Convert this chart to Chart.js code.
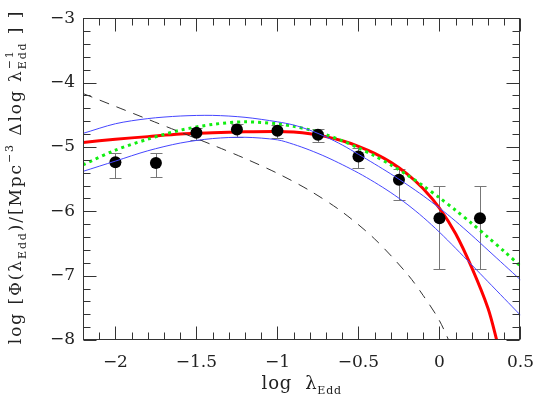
<!DOCTYPE html>
<html><head><meta charset="utf-8">
<script src="https://cdn.jsdelivr.net/npm/chart.js@4/dist/chart.umd.min.js"></script>
<style>html,body{margin:0;padding:0;background:#fff;}#c{display:block;}</style>
</head><body>
<canvas id="c" width="546" height="397"></canvas>
<script>
// ---- data ----
const obsX  = [-2, -1.75, -1.5, -1.25, -1, -0.75, -0.5, -0.25, 0, 0.25];
const obsY  = [-5.24, -5.25, -4.78, -4.73, -4.75, -4.81, -5.15, -5.51, -6.11, -6.11];
const obsHi = [-5.09, -5.10, -4.70, -4.65, -4.66, -4.72, -5.02, -5.34, -5.61, -5.61];
const obsLo = [-5.49, -5.47, -4.90, -4.85, -4.86, -4.92, -5.32, -5.82, -6.89, -6.89];

const gridX = [-2.2, -2.0, -1.8, -1.6, -1.4, -1.2, -1.0, -0.9, -0.8, -0.7, -0.6, -0.5, -0.4, -0.3, -0.2, -0.1, 0, 0.1, 0.2, 0.3, 0.4, 0.5];
const greenY  = [-5.28, -5.05, -4.88, -4.74, -4.65, -4.61, -4.64, -4.68, -4.735, -4.81, -4.905, -5.015, -5.14, -5.28, -5.435, -5.605, -5.79, -5.985, -6.19, -6.405, -6.625, -6.85];
const blueHiY = [-4.79, -4.64, -4.56, -4.52, -4.51, -4.54, -4.61, -4.66, -4.74, -4.845, -4.97, -5.115, -5.265, -5.42, -5.585, -5.76, -5.95, -6.155, -6.375, -6.605, -6.835, -7.065];
const blueLoY = [-5.38, -5.22, -5.06, -4.94, -4.87, -4.85, -4.89, -4.96, -5.05, -5.155, -5.275, -5.405, -5.55, -5.71, -5.89, -6.095, -6.325, -6.575, -6.835, -7.095, -7.355, -7.615];

const redX = [-2.2, -2.0, -1.8, -1.6, -1.4, -1.2, -1.0, -0.9, -0.8, -0.7, -0.6, -0.5, -0.4, -0.3, -0.2, -0.1, 0, 0.1, 0.2, 0.3, 0.35, 0.4];
const redY = [-4.93, -4.88, -4.84, -4.80, -4.78, -4.765, -4.76, -4.77, -4.795, -4.84, -4.905, -4.99, -5.10, -5.24, -5.42, -5.65, -5.95, -6.35, -6.88, -7.51, -7.97, -8.5];

const dashX = [-2.2, -2.0, -1.8, -1.6, -1.4, -1.2, -1.0, -0.8, -0.6, -0.4, -0.2, -0.1, 0, 0.1];
const dashY = [-4.17, -4.37, -4.57, -4.77, -4.97, -5.18, -5.41, -5.68, -6.01, -6.43, -6.97, -7.31, -7.70, -8.25];

const xTicks = [-2, -1.5, -1, -0.5, 0, 0.5];
const xTickLabels = ['\u22122', '\u22121.5', '\u22121', '\u22120.5', '0', '0.5'];
const yTicks = [-8, -7, -6, -5, -4, -3];
const yTickLabels = ['\u22128', '\u22127', '\u22126', '\u22125', '\u22124', '\u22123'];
const xMinorStep = 0.1, yMinorStep = 0.2;

const FONT = "'DejaVu Serif'";
const pts = (xs, ys) => xs.map((v, i) => ({x: v, y: ys[i]}));

function drawRich(ctx, runs, sp, measureOnly) {
  let x = 0, stackW = 0;
  for (const r of runs) {
    ctx.font = r.s + 'px ' + FONT;
    let w = 0;
    for (const ch of r.t) {
      if (!measureOnly) ctx.fillText(ch, x + w, r.dy || 0);
      w += ctx.measureText(ch).width + sp;
    }
    if (r.stack) { stackW = w; }
    else { x += Math.max(w, stackW); stackW = 0; }
  }
  return x;
}

const framePlugin = {
  id: 'frame',
  beforeDatasetsDraw(chart) {
    const {ctx, scales: {x, y}} = chart;
    ctx.save();
    ctx.strokeStyle = '#777';
    ctx.lineWidth = 1;
    obsX.forEach((vx, i) => {
      const px = Math.round(x.getPixelForValue(vx)) + 0.5;
      const pt = Math.round(y.getPixelForValue(obsHi[i])) + 0.5;
      const pb = Math.round(y.getPixelForValue(obsLo[i])) + 0.5;
      ctx.beginPath();
      ctx.moveTo(px, pt); ctx.lineTo(px, pb);
      ctx.moveTo(px - 6, pt); ctx.lineTo(px + 6, pt);
      ctx.moveTo(px - 6, pb); ctx.lineTo(px + 6, pb);
      ctx.stroke();
    });
    ctx.restore();
  },
  afterDraw(chart) {
    const {ctx, chartArea: a, scales: {x, y}} = chart;
    ctx.save();
    ctx.strokeStyle = '#333';
    ctx.lineWidth = 1;
    const L = Math.round(a.left) + 0.5, R = Math.round(a.right) - 0.5;
    const T = Math.round(a.top) + 0.5, B = Math.round(a.bottom) - 0.5;
    ctx.strokeRect(L, T, R - L, B - T);
    ctx.beginPath();
    for (let k = Math.round(x.min / xMinorStep); k <= Math.round(x.max / xMinorStep); k++) {
      const v = k * xMinorStep;
      const major = xTicks.some(t => Math.abs(t - v) < 1e-6);
      const len = major ? 13 : 7;
      const px = Math.round(x.getPixelForValue(v)) + 0.5;
      ctx.moveTo(px, B); ctx.lineTo(px, B - len);
      ctx.moveTo(px, T); ctx.lineTo(px, T + len);
    }
    for (let k = Math.round(y.min / yMinorStep); k <= Math.round(y.max / yMinorStep); k++) {
      const v = k * yMinorStep;
      const major = yTicks.some(t => Math.abs(t - v) < 1e-6);
      const len = major ? 13 : 7;
      const py = Math.round(y.getPixelForValue(v)) + 0.5;
      ctx.moveTo(L, py); ctx.lineTo(L + len, py);
      ctx.moveTo(R, py); ctx.lineTo(R - len, py);
    }
    ctx.stroke();

    // axis titles
    ctx.fillStyle = '#222';
    ctx.textBaseline = 'alphabetic';
    ctx.textAlign = 'left';
    const xRuns = [{t: 'log  \u03BB', s: 18}, {t: 'Edd', s: 11, dy: 5}];
    const xw = drawRich(ctx, xRuns, 0.8, true);
    ctx.save();
    ctx.translate((a.left + a.right) / 2 - xw / 2, 389);
    drawRich(ctx, xRuns, 0.8);
    ctx.restore();

    const yRuns = [
      {t: 'log [\u03A6(\u03BB', s: 17}, {t: 'Edd', s: 11, dy: 5},
      {t: ')/[Mpc', s: 17}, {t: '\u22123', s: 11, dy: -8},
      {t: ' \u0394log \u03BB', s: 17},
      {t: '\u22121', s: 11, dy: -8, stack: true}, {t: 'Edd', s: 11, dy: 5},
      {t: ' ] ]', s: 17}
    ];
    const yw = drawRich(ctx, yRuns, 1.9, true);
    ctx.save();
    ctx.translate(21, 177 + yw / 2);
    ctx.rotate(-Math.PI / 2);
    drawRich(ctx, yRuns, 1.9);
    ctx.restore();
    ctx.restore();
  }
};

const curve = (d, color, width, order, extra) => Object.assign({
  data: d, borderColor: color, borderWidth: width, pointRadius: 0,
  tension: 0.3, order: order, clip: 0
}, extra || {});

new Chart(document.getElementById('c'), {
  type: 'line',
  data: {
    datasets: [
      curve(pts(gridX, blueHiY), 'rgb(70,70,255)', 1, 1),
      curve(pts(gridX, blueLoY), 'rgb(70,70,255)', 1, 1),
      curve(pts(dashX, dashY), '#333', 1, 2, {borderDash: [10, 8]}),
      {data: pts(obsX, obsY), showLine: false, pointRadius: 6, pointBackgroundColor: '#000', pointBorderWidth: 0, borderColor: '#000', order: 3},
      curve(pts(gridX, greenY), '#11ee11', 3, 4, {borderDash: [3, 4], borderCapStyle: 'butt'}),
      curve(pts(redX, redY), '#ff0000', 3, 5)
    ]
  },
  options: {
    responsive: false,
    devicePixelRatio: 1,
    animation: false,
    events: [],
    layout: {padding: {top: 7, right: 15, left: 0, bottom: 0}},
    plugins: {legend: {display: false}, tooltip: {enabled: false}},
    scales: {
      x: {
        type: 'linear', min: -2.2, max: 0.5,
        grid: {display: false, drawTicks: false}, border: {display: false},
        afterBuildTicks: s => { s.ticks = xTicks.map(v => ({value: v})); },
        afterFit: s => { s.height = 57; },
        ticks: {padding: 12, color: '#222', font: {family: FONT, size: 17},
          callback: v => xTickLabels[xTicks.findIndex(t => Math.abs(t - v) < 1e-6)]}
      },
      y: {
        type: 'linear', min: -8, max: -3,
        grid: {display: false, drawTicks: false}, border: {display: false},
        afterBuildTicks: s => { s.ticks = yTicks.map(v => ({value: v})); },
        afterFit: s => { s.width = 83; },
        ticks: {padding: 8, color: '#222', font: {family: FONT, size: 17},
          callback: v => yTickLabels[yTicks.findIndex(t => Math.abs(t - v) < 1e-6)]}
      }
    }
  },
  plugins: [framePlugin]
});
</script>
</body></html>
